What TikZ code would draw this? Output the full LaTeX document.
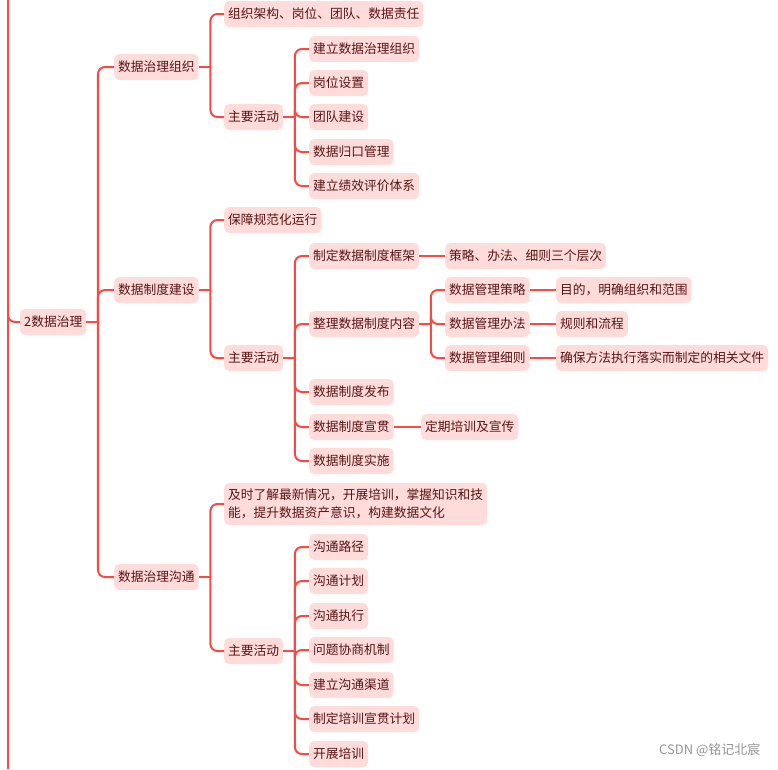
\documentclass[tikz,border=0pt]{standalone}
\usepackage{fontspec}
\setmainfont{Noto Sans CJK SC}
\usetikzlibrary{calc}
\definecolor{lnc}{RGB}{250,72,66}
\definecolor{fillc}{RGB}{255,220,218}
\definecolor{txtc}{RGB}{85,20,20}
\tikzset{
  topic/.style={fill=fillc, text=txtc, rounded corners=5pt, inner xsep=4pt, inner ysep=0pt,
    minimum height=26pt, anchor=west, font=\fontsize{12.75}{18}\selectfont},
  conn/.style={draw=lnc, line width=2pt},
  rc/.style={conn, rounded corners=7pt}
}
\begin{document}
\begin{tikzpicture}[x=1pt,y=-1pt]
\useasboundingbox (0,0) rectangle (778,769);
% nodes
\node[topic] (root) at (20,322) {2数据治理};
\node[topic] (a) at (114,67) {数据治理组织};
\node[topic] (b) at (114,290) {数据制度建设};
\node[topic] (c) at (114,577) {数据治理沟通};
\node[topic] (a1) at (224,14) {组织架构、岗位、团队、数据责任};
\node[topic] (a2) at (224,117) {主要活动};
\node[topic] (a21) at (309,49) {建立数据治理组织};
\node[topic] (a22) at (309,83) {岗位设置};
\node[topic] (a23) at (309,117) {团队建设};
\node[topic] (a24) at (309,152) {数据归口管理};
\node[topic] (a25) at (309,186) {建立绩效评价体系};
\node[topic] (b1) at (224,220) {保障规范化运行};
\node[topic] (b2) at (224,358) {主要活动};
\node[topic] (b21) at (309,256) {制定数据制度框架};
\node[topic] (b211) at (445,256) {策略、办法、细则三个层次};
\node[topic] (b22) at (309,324) {整理数据制度内容};
\node[topic] (b221) at (445,290) {数据管理策略};
\node[topic] (b222) at (445,324) {数据管理办法};
\node[topic] (b223) at (445,358) {数据管理细则};
\node[topic] (b2211) at (556,290) {目的，明确组织和范围};
\node[topic] (b2221) at (556,324) {规则和流程};
\node[topic] (b2231) at (556,358) {确保方法执行落实而制定的相关文件};
\node[topic] (b23) at (309,392) {数据制度发布};
\node[topic] (b24) at (309,427) {数据制度宣贯};
\node[topic] (b241) at (421,427) {定期培训及宣传};
\node[topic] (b25) at (309,461) {数据制度实施};
\node[topic, align=left, minimum height=42pt] (c1) at (224,504) {及时了解最新情况，开展培训，掌握知识和技\\能，提升数据资产意识，构建数据文化};
\node[topic] (c2) at (224,651) {主要活动};
\node[topic] (c21) at (309,547) {沟通路径};
\node[topic] (c22) at (309,581) {沟通计划};
\node[topic] (c23) at (309,616) {沟通执行};
\node[topic] (c24) at (309,650) {问题协商机制};
\node[topic] (c25) at (309,685) {建立沟通渠道};
\node[topic] (c26) at (309,719) {制定培训宣贯计划};
\node[topic] (c27) at (309,754) {开展培训};
\node[anchor=east, text=black!42, font=\fontsize{13}{13}\selectfont] (wm) at (764,750) {CSDN @铭记北宸};
% connectors
\coordinate (top) at (8,0);
\coordinate (bot) at (8,769);
\draw[conn] (top) -- (bot);
\draw[rc] (top) |- (root.west);
\foreach \p/\kids in {root/{a,b,c}, a/{a1,a2}, a2/{a21,a22,a23,a24,a25}, b/{b1,b2}, b2/{b21,b22,b23,b24,b25}, b22/{b221,b222,b223}, c/{c1,c2}, c2/{c21,c22,c23,c24,c25,c26,c27}}{
  \coordinate (j\p) at ($(\p.east)+(11.5,0)$);
  \draw[conn] (\p.east) -- (j\p);
  \foreach \k in \kids { \draw[rc] (j\p) |- (\k.west); }
}
\draw[conn] (b21.east) -- (b211.west);
\draw[conn] (b221.east) -- (b2211.west);
\draw[conn] (b222.east) -- (b2221.west);
\draw[conn] (b223.east) -- (b2231.west);
\draw[conn] (b24.east) -- (b241.west);
\end{tikzpicture}
\end{document}
